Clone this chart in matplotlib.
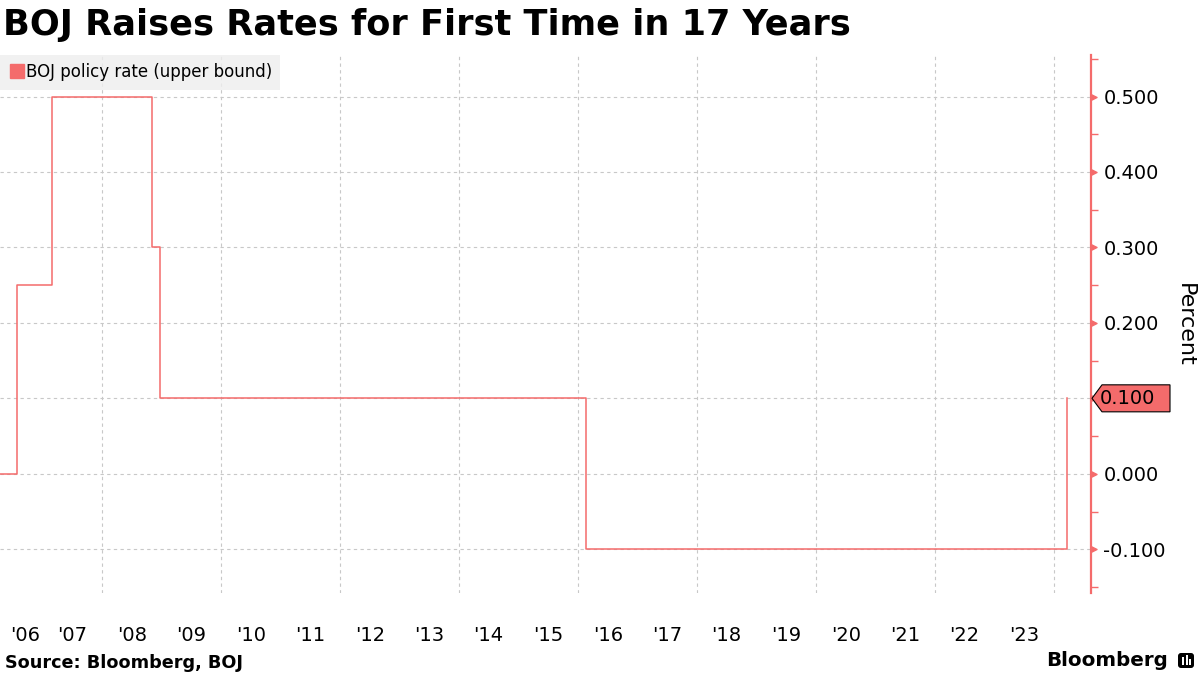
import matplotlib
matplotlib.use('Agg')
import matplotlib.pyplot as plt
import matplotlib.dates as mdates
from matplotlib.patches import Polygon, FancyBboxPatch, Rectangle
from matplotlib.lines import Line2D
from matplotlib.ticker import MultipleLocator, FixedLocator
from matplotlib.transforms import IdentityTransform, ScaledTranslation
from matplotlib.path import Path
import datetime as dt

plt.rcParams['font.family'] = ['DejaVu Sans']

# ---------------- data ----------------
title = "BOJ Raises Rates for First Time in 17 Years"
series_name = "BOJ policy rate (upper bound)"
dates = ["2006-03-01", "2006-07-28", "2007-03-01", "2008-10-31",
         "2008-12-19", "2016-02-16", "2024-03-19"]
rates = [0.00, 0.25, 0.50, 0.30, 0.10, -0.10, 0.10]
label_years = list(range(2006, 2024))
year_labels = ["'06", "'07", "'08", "'09", "'10", "'11", "'12", "'13", "'14",
               "'15", "'16", "'17", "'18", "'19", "'20", "'21", "'22", "'23"]
y_ticks = [-0.1, 0.0, 0.1, 0.2, 0.3, 0.4, 0.5]
source = "Source: Bloomberg, BOJ"
y_axis_label = "Percent"

RED = '#f46b6b'
GRID = '#c8c8c8'

W, H = 1200, 675
fig = plt.figure(figsize=(12, 6.75), dpi=100)
ax = fig.add_axes([0, 1 - 593 / H, 1091 / W, (593 - 55) / H])

x = [dt.datetime.strptime(d, "%Y-%m-%d") for d in dates]
ax.plot(x, rates, drawstyle='steps-post', color=RED, lw=1.1, zorder=3)

ax.set_xlim(dt.datetime(2006, 4, 14), dt.datetime(2024, 8, 15))
ax.set_ylim(-0.158, 0.555)

# spines
for s in ['left', 'top', 'bottom']:
    ax.spines[s].set_visible(False)
ax.spines['right'].set_color(RED)
ax.spines['right'].set_linewidth(1.6)

# x ticks: gridlines at Jan 1 of even years, labels mid-year
ax.xaxis.set_major_locator(FixedLocator(mdates.date2num(
    [dt.datetime(y, 1, 1) for y in range(2008, 2025, 2)])))
ax.xaxis.set_major_formatter(plt.NullFormatter())
ax.set_xticks([dt.datetime(y, 7, 1) for y in label_years], minor=True)
ax.set_xticklabels(year_labels, minor=True)
ax.tick_params(axis='x', which='both', length=0)
ax.tick_params(axis='x', which='minor', pad=24, labelsize=14)

# y ticks on right (the last value is shown in its own box instead)
last = rates[-1]
ax.yaxis.tick_right()
ax.set_yticks(y_ticks)
ax.set_yticklabels(["" if abs(v - last) < 1e-9 else f"{v:.3f}" for v in y_ticks])
ax.yaxis.set_minor_locator(MultipleLocator(0.05))
ax.tick_params(axis='y', which='major', length=0, pad=9, labelsize=14)
ax.tick_params(axis='y', which='minor', length=5, width=1, color=RED, direction='out')

# triangles for major ticks
tri = Path([(0, -0.5), (1, 0), (0, 0.5), (0, -0.5)],
           [Path.MOVETO, Path.LINETO, Path.LINETO, Path.CLOSEPOLY])
ax.plot([1.0] * len(y_ticks), y_ticks, linestyle='none', marker=tri,
        markersize=8, color=RED, clip_on=False,
        transform=ax.get_yaxis_transform(), zorder=5)

# grid
ax.grid(axis='x', which='major', color=GRID, linestyle=(0, (3, 3)), lw=0.8)
ax.grid(axis='y', which='major', color=GRID, linestyle=(0, (3, 3)), lw=0.8)

# legend
handle = Line2D([], [], marker='s', color=RED, linestyle='none', markersize=10)
leg = ax.legend([handle], [series_name], loc='upper left', bbox_to_anchor=(0, 1),
                borderaxespad=0, frameon=True, facecolor='#eeeeee',
                edgecolor='#eeeeee', fancybox=False, fontsize=12,
                handletextpad=0.05, handlelength=1.0, borderpad=0.5)
leg.get_frame().set_linewidth(0)

fig.canvas.draw()
# shift first year label so it fits
first = ax.xaxis.get_minor_ticks()[0].label1
first.set_transform(first.get_transform() + ScaledTranslation(9 / 72, 0, fig.dpi_scale_trans))

# last value label box
yd = ax.transData.transform((0, last))[1]
xd = ax.transAxes.transform((1, 0))[0]
hh = 13.5
poly = Polygon([(xd + 1, yd), (xd + 11, yd + hh), (1170, yd + hh),
                (1170, yd - hh), (xd + 11, yd - hh)], closed=True,
               facecolor=RED, edgecolor='black', lw=0.8,
               transform=IdentityTransform())
fig.patches.append(poly)
fig.text((xd + 9) / W, yd / H, f"{last:.3f}", fontsize=14, va='center',
         ha='left', color='black')

# texts
fig.text(1185 / W, 1 - 325 / H, y_axis_label, rotation=270, va='center',
         ha='center', fontsize=16)
fig.text(3 / W, 1 - 25 / H, title, fontsize=25.3, fontweight='bold', va='center')
fig.text(5 / W, 1 - 663 / H, source, fontsize=12.7, fontweight='bold', va='center')
fig.text(1168 / W, 1 - 661 / H, "Bloomberg", fontsize=14.3, fontweight='bold',
         va='center', ha='right')

# small logo
lx, ly = 1178, H - 670
logo = FancyBboxPatch((lx, ly + 2), 16, 15, boxstyle="round,pad=0,rounding_size=3",
                      facecolor='black', edgecolor='none', transform=IdentityTransform())
fig.patches.append(logo)
for bx, bh in [(lx + 4, 8), (lx + 7.5, 10), (lx + 11, 6)]:
    fig.patches.append(Rectangle((bx, ly + 5), 2, bh, facecolor='white',
                                 edgecolor='none', transform=IdentityTransform()))

fig.savefig('out.png', dpi=100)
